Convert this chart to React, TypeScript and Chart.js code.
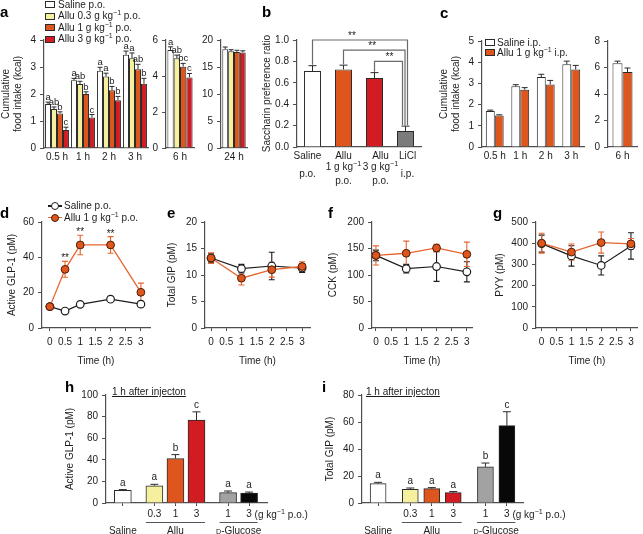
import React, { useEffect, useRef } from 'react';
import { Chart, registerables } from 'chart.js';

Chart.register(...registerables);

const W = 643;
const H = 534;
const FONT = '"Liberation Sans", Arial, Helvetica, sans-serif';
const INK = '#1c1c1c';
const AXIS = '#4f4f4f';
const EDGE = '#2b2b2b';
const WHITE = '#ffffff';
const YELLOW = '#f6ef9d';
const ORANGE = '#de561d';
const RED = '#d21c23';
const DGREY = '#7b7b7b';
const LGREY = '#a2a2a2';
const BLACK = '#080808';
const LINE_OR = '#e6652f';
const BRACKET = '#6a6a6a';

Chart.defaults.font.family = FONT;
Chart.defaults.font.size = 10;
Chart.defaults.color = INK;

// ================= DATA =================
// panel a
const aGroups = ['Saline p.o.', 'Allu 0.3 g kg{−1} p.o.', 'Allu 1 g kg{−1} p.o.', 'Allu 3 g kg{−1} p.o.'];
const aColors = [WHITE, YELLOW, ORANGE, RED];
const aTimes = ['0.5 h', '1 h', '2 h', '3 h'];
const aSaline = [1.63, 2.51, 2.86, 3.45];
const aAllu03 = [1.44, 2.37, 2.65, 3.32];
const aAllu1 = [1.28, 2.0, 2.14, 2.92];
const aAllu3 = [0.67, 1.13, 1.77, 2.38];
const aSalineErr = [0.07, 0.07, 0.13, 0.14];
const aAllu03Err = [0.08, 0.1, 0.12, 0.2];
const aAllu1Err = [0.06, 0.08, 0.14, 0.18];
const aAllu3Err = [0.1, 0.11, 0.14, 0.2];
const aSalineLet = ['a', 'a', 'a', 'a'];
const aAllu03Let = ['ab', 'ab', 'a', 'a'];
const aAllu1Let = ['b', 'b', 'b', 'ab'];
const aAllu3Let = ['c', 'c', 'b', 'b'];
const aTicks = [0, 1, 2, 3, 4];
const a6Label = ['6 h'];
const a6Values = [5.45, 4.98, 4.52, 3.92];
const a6Err = [0.17, 0.18, 0.18, 0.22];
const a6Let = ['a', 'ab', 'bc', 'c'];
const a6Ticks = [0, 2, 4, 6];
const a24Label = ['24 h'];
const a24Values = [18.3, 17.9, 17.8, 17.7];
const a24Err = [0.4, 0.3, 0.3, 0.3];
const a24Ticks = [0, 5, 10, 15, 20];

// panel b
const bCats = ['Saline', 'Allu', 'Allu', 'LiCl'];
const bDoses = ['', '1 g kg{−1}', '3 g kg{−1}', ''];
const bRoutes = ['p.o.', 'p.o.', 'p.o.', 'i.p.'];
const bColors = [WHITE, ORANGE, RED, DGREY];
const bValues = [0.71, 0.725, 0.645, 0.15];
const bErr = [0.05, 0.04, 0.05, 0.045];
const bTicks = [0, 0.2, 0.4, 0.6, 0.8, 1.0];
const bPairs = [[0, 3], [1, 3], [2, 3]];
const bPairLevel = [1.0, 0.905, 0.8];
const bPairMark = ['**', '**', '**'];

// panel c
const cGroups = ['Saline i.p.', 'Allu 1 g kg{−1} i.p.'];
const cSaline = [1.7, 2.86, 3.3, 3.9];
const cSalineErr = [0.04, 0.08, 0.13, 0.15];
const cAllu = [1.49, 2.7, 2.95, 3.65];
const cAlluErr = [0.03, 0.1, 0.19, 0.2];
const cTicks = [0, 1, 2, 3, 4, 5];
const c6Values = [6.33, 5.66];
const c6Err = [0.15, 0.3];
const c6Ticks = [0, 2, 4, 6, 8];

// panels d-g
const timeTicks = [0, 0.5, 1, 1.5, 2, 2.5, 3];
const dLegend = ['Saline p.o.', 'Allu 1 g kg{−1} p.o.'];
const dTimes = [0, 0.5, 1, 2, 3];
const dSaline = [12.1, 9.6, 13.4, 16.3, 13.5];
const dSalineErr = [0.8, 0.7, 0.8, 1.0, 1.6];
const dAllu = [12.1, 33.2, 47, 47, 20.2];
const dAlluErr = [0.9, 4.5, 5.5, 4.7, 5.2];
const dStars = ['', '**', '**', '**', ''];
const dTicks = [0, 20, 40, 60];
const egTimes = [0, 1, 2, 3];
const eSaline = [13.2, 11.2, 11.7, 11.3];
const eSalineErr = [0.8, 0.8, 2.6, 0.8];
const eAllu = [13.2, 9.4, 11.0, 11.6];
const eAlluErr = [1.0, 1.3, 1.4, 0.9];
const eTicks = [0, 5, 10, 15, 20];
const fSaline = [137, 112, 116, 106];
const fSalineErr = [10, 8, 28, 19];
const fAllu = [137, 141, 151, 139];
const fAlluErr = [18, 23, 7, 23];
const fTicks = [0, 50, 100, 150, 200];
const gSaline = [398, 340, 295, 387];
const gSalineErr = [40, 48, 45, 62];
const gAllu = [400, 358, 403, 397];
const gAlluErr = [47, 38, 50, 25];
const gTicks = [0, 100, 200, 300, 400, 500];

// panels h, i
const injX = [0, 1.5, 2.5, 3.5, 5, 6];
const injTicks = ['', '0.3', '1', '3', '1', '3'];
const injColors = [WHITE, YELLOW, ORANGE, RED, LGREY, BLACK];
const groupNames = ['Saline', 'Allu', '[D]-Glucose'];
const groupFrom = [0, 1.5, 5];
const groupTo = [0, 3.5, 6];
const hValues = [11.8, 16, 41.2, 76.8, 9.6, 9.3];
const hErr = [0.6, 1.3, 3.6, 7.6, 1.5, 0.8];
const hLetters = ['a', 'a', 'b', 'c', 'a', 'a'];
const hTicks = [0, 20, 40, 60, 80, 100];
const iValues = [14.4, 10.2, 10.7, 7.7, 26.8, 57.3];
const iErr = [0.9, 0.9, 0.7, 0.8, 2.8, 10.3];
const iLetters = ['a', 'a', 'a', 'a', 'b', 'c'];
const iTicks = [0, 20, 40, 60, 80];

// ================= LAYOUT =================
type Rect = { l: number; t: number; r: number; b: number };
const RA1: Rect = { l: 44, t: 40, r: 148, b: 148 };
const RA2: Rect = { l: 166, t: 40, r: 194, b: 148 };
const RA3: Rect = { l: 221, t: 40, r: 247, b: 148 };
const RB: Rect = { l: 297, t: 40, r: 421, b: 147 };
const RC1: Rect = { l: 482, t: 41, r: 584, b: 147 };
const RC2: Rect = { l: 608, t: 41, r: 637, b: 147 };
const RD: Rect = { l: 42, t: 222, r: 150, b: 328 };
const RE: Rect = { l: 205, t: 222, r: 310, b: 328 };
const RF: Rect = { l: 372, t: 222, r: 472, b: 328 };
const RG: Rect = { l: 536, t: 222, r: 640, b: 328 };
const RH: Rect = { l: 106, t: 395, r: 267, b: 503 };
const RI: Rect = { l: 362, t: 395, r: 523, b: 503 };

// ================= HELPERS =================
function valOf(d: any) {
  return typeof d === 'number' ? d : d.y;
}

function parseRich(str: string) {
  const parts: any[] = [];
  const re = /\{([^}]*)\}|\[([^\]]*)\]|([^{\[]+)/g;
  let m: any;
  while ((m = re.exec(str))) {
    if (m[1] != null) parts.push({ t: m[1], k: 'sup' });
    else if (m[2] != null) parts.push({ t: m[2], k: 'sc' });
    else parts.push({ t: m[3], k: 'n' });
  }
  return parts;
}

function drawRich(ctx: any, str: string, x: number, cy: number, align: string, size: number) {
  const parts = parseRich(str);
  const fontFor = (k: string) => `${k === 'n' ? size : size * 0.72}px ${FONT}`;
  let total = 0;
  parts.forEach((p) => {
    ctx.font = fontFor(p.k);
    p.w = ctx.measureText(p.t).width;
    total += p.w;
  });
  let cx = align === 'center' ? x - total / 2 : align === 'right' ? x - total : x;
  ctx.textAlign = 'left';
  ctx.textBaseline = 'alphabetic';
  const baseY = cy + size * 0.36;
  parts.forEach((p) => {
    ctx.font = fontFor(p.k);
    ctx.fillText(p.t, cx, p.k === 'sup' ? baseY - size * 0.4 : baseY);
    cx += p.w;
  });
}

function drawErrs(chart: any, mode: string) {
  const ctx = chart.ctx;
  chart.data.datasets.forEach((ds: any, di: number) => {
    if (!ds.err || ds.errMode !== mode) return;
    const meta = chart.getDatasetMeta(di);
    const ys = chart.scales[meta.yAxisID];
    ctx.save();
    ctx.strokeStyle = ds.errColor || EDGE;
    ctx.lineWidth = ds.errWidth || 1;
    const cw = ds.capW == null ? 3 : ds.capW;
    meta.data.forEach((el: any, i: number) => {
      const e = ds.err[i];
      if (!e) return;
      const v = valOf(ds.data[i]);
      const x = el.x;
      const yT = ys.getPixelForValue(v + e);
      const yB = mode === 'both' ? ys.getPixelForValue(v - e) : ys.getPixelForValue(v);
      ctx.beginPath();
      ctx.moveTo(x, yB);
      ctx.lineTo(x, yT);
      ctx.moveTo(x - cw, yT);
      ctx.lineTo(x + cw, yT);
      if (mode === 'both') {
        ctx.moveTo(x - cw, yB);
        ctx.lineTo(x + cw, yB);
      }
      ctx.stroke();
    });
    ctx.restore();
  });
}

function drawLetters(chart: any) {
  const ctx = chart.ctx;
  chart.data.datasets.forEach((ds: any, di: number) => {
    if (!ds.letters) return;
    const meta = chart.getDatasetMeta(di);
    const ys = chart.scales[meta.yAxisID];
    ctx.save();
    ctx.fillStyle = INK;
    ctx.font = `${ds.letterSize || 10}px ${FONT}`;
    ctx.textAlign = 'center';
    ctx.textBaseline = 'alphabetic';
    meta.data.forEach((el: any, i: number) => {
      const t = ds.letters[i];
      if (!t) return;
      const v = valOf(ds.data[i]) + (ds.err ? ds.err[i] || 0 : 0);
      ctx.fillText(t, el.x, ys.getPixelForValue(v) - (ds.letterGap == null ? 2 : ds.letterGap));
    });
    ctx.restore();
  });
}

const marks = {
  id: 'marks',
  beforeDatasetsDraw(chart: any) {
    drawErrs(chart, 'both');
  },
  afterDatasetsDraw(chart: any) {
    drawErrs(chart, 'up');
    drawLetters(chart);
  },
};

function baseConfig(type: string, data: any, rect: Rect, yW: number, xH: number, x: any, y: any, plugins: any[] = []) {
  return {
    type,
    data,
    options: {
      responsive: false,
      maintainAspectRatio: false,
      animation: false,
      events: [],
      layout: { padding: { left: rect.l - yW, top: rect.t, right: W - rect.r, bottom: H - rect.b - xH } },
      plugins: { legend: { display: false }, tooltip: { enabled: false }, title: { display: false } },
      scales: {
        x: { ...x, afterFit: (s: any) => { s.height = xH; s.paddingLeft = 0; s.paddingRight = 0; } },
        y: { ...y, afterFit: (s: any) => { s.width = yW; s.paddingTop = 0; s.paddingBottom = 0; } },
      },
    },
    plugins: [marks, ...plugins],
  };
}

function yAxis(ticks: number[], title?: any, fmt?: (v: number) => string) {
  return {
    type: 'linear',
    min: ticks[0],
    max: ticks[ticks.length - 1],
    afterBuildTicks: (s: any) => { s.ticks = ticks.map((v) => ({ value: v })); },
    grid: { display: true, drawOnChartArea: false, drawTicks: true, tickLength: 4, color: AXIS, lineWidth: 1 },
    border: { display: true, color: AXIS, width: 1.2 },
    ticks: { padding: 4, color: INK, font: { size: 10 }, callback: (v: any) => (fmt ? fmt(Number(v)) : String(v)) },
    title: title
      ? { display: true, text: title, color: INK, font: { size: 10, lineHeight: 1.2 }, padding: 0 }
      : { display: false },
  };
}

function catAxis(showLabels: boolean) {
  return {
    type: 'category',
    offset: true,
    grid: { display: false, drawTicks: false, offset: true },
    border: { display: true, color: AXIS, width: 1.2 },
    ticks: { display: showLabels, padding: 3, color: INK, font: { size: 10 }, maxRotation: 0, minRotation: 0, autoSkip: false },
  };
}

function timeAxis(min: number, max: number) {
  return {
    type: 'linear',
    min,
    max,
    offset: false,
    afterBuildTicks: (s: any) => { s.ticks = timeTicks.map((v) => ({ value: v })); },
    grid: { display: true, drawOnChartArea: false, drawTicks: true, tickLength: 3, color: AXIS, lineWidth: 1, offset: false },
    border: { display: true, color: AXIS, width: 1.2 },
    ticks: { padding: 5, color: INK, font: { size: 10 }, maxRotation: 0, minRotation: 0, autoSkip: false, callback: (v: any) => String(v) },
    title: { display: true, text: 'Time (h)', color: INK, font: { size: 10, lineHeight: 1.2 }, padding: 0 },
  };
}

function barSet(data: number[], color: any, err: number[], letters: any, extra: any) {
  return { data, backgroundColor: color, borderColor: EDGE, borderWidth: 1, err, errMode: 'up', letters, ...extra };
}

function lineSet(xs: number[], ys: number[], err: number[], kind: string, letters?: string[]) {
  const style =
    kind === 'sal'
      ? { borderColor: INK, borderWidth: 1.2, pointRadius: 3.8, pointBackgroundColor: WHITE, pointBorderColor: INK, pointBorderWidth: 1.2, errColor: INK, order: 1 }
      : { borderColor: LINE_OR, borderWidth: 1.3, pointRadius: 3.9, pointBackgroundColor: ORANGE, pointBorderColor: '#4a1e08', pointBorderWidth: 1, errColor: LINE_OR, order: 0 };
  return {
    data: xs.map((x, i) => ({ x, y: ys[i] })),
    err,
    errMode: 'both',
    capW: 3,
    errWidth: 1.1,
    tension: 0,
    fill: false,
    letters,
    letterGap: 0,
    ...style,
  };
}

// ================= CHART CONFIGS =================
const aSets = [
  [aSaline, aSalineErr, aSalineLet],
  [aAllu03, aAllu03Err, aAllu03Let],
  [aAllu1, aAllu1Err, aAllu1Let],
  [aAllu3, aAllu3Err, aAllu3Let],
];

const barA = { categoryPercentage: 0.92, barPercentage: 1, capW: 2.5, letterSize: 9.5, letterGap: 2 };

const mkA1 = () =>
  baseConfig(
    'bar',
    { labels: aTimes, datasets: aSets.map((s: any, k) => barSet(s[0], aColors[k], s[1], s[2], barA)) },
    RA1, 44, 20, catAxis(true), yAxis(aTicks, ['Cumulative', 'food intake (kcal)'])
  );

const mkA2 = () =>
  baseConfig(
    'bar',
    { labels: a6Label, datasets: a6Values.map((v, k) => barSet([v], aColors[k], [a6Err[k]], [a6Let[k]], { ...barA, categoryPercentage: 0.9 })) },
    RA2, 20, 20, catAxis(true), yAxis(a6Ticks)
  );

const mkA3 = () =>
  baseConfig(
    'bar',
    { labels: a24Label, datasets: a24Values.map((v, k) => barSet([v], aColors[k], [a24Err[k]], null, { ...barA, categoryPercentage: 0.9 })) },
    RA3, 20, 20, catAxis(true), yAxis(a24Ticks)
  );

const bLabelDx = [-5, 0, 6, 2];
const bEndDx = [2, -0.5, -3];
const bMarkDx = [-8, -2, 1];

const bPlugin = {
  id: 'bextra',
  afterDraw(chart: any) {
    const ctx = chart.ctx;
    const xs = chart.scales.x;
    const ys = chart.scales.y;
    const base = chart.chartArea.bottom;
    ctx.save();
    ctx.fillStyle = INK;
    bCats.forEach((c, i) => {
      const x = xs.getPixelForValue(i) + bLabelDx[i];
      drawRich(ctx, c, x, base + 8.5, 'center', 10);
      if (bDoses[i]) {
        drawRich(ctx, bDoses[i], x, base + 19.5, 'center', 10);
        drawRich(ctx, bRoutes[i], x, base + 33, 'center', 10);
      } else {
        drawRich(ctx, bRoutes[i], x, base + 26.5, 'center', 10);
      }
    });
    ctx.strokeStyle = BRACKET;
    ctx.lineWidth = 1.2;
    bPairs.forEach(([p, q], k) => {
      const x1 = xs.getPixelForValue(p);
      const x2 = xs.getPixelForValue(q) + bEndDx[k];
      const yb = ys.getPixelForValue(bPairLevel[k]);
      const y1 = ys.getPixelForValue(bValues[p] + bErr[p]) - 1;
      const y2 = ys.getPixelForValue(bValues[q] + bErr[q]) - 1;
      ctx.beginPath();
      ctx.moveTo(x1, y1);
      ctx.lineTo(x1, yb);
      ctx.lineTo(x2, yb);
      ctx.lineTo(x2, y2);
      ctx.stroke();
      ctx.font = `10px ${FONT}`;
      ctx.textAlign = 'center';
      ctx.textBaseline = 'alphabetic';
      ctx.fillText(bPairMark[k], (x1 + x2) / 2 + bMarkDx[k], yb - 1.5);
    });
    ctx.restore();
  },
};

const mkB = () =>
  baseConfig(
    'bar',
    { labels: bCats, datasets: [barSet(bValues, bColors, bErr, null, { categoryPercentage: 1, barPercentage: 0.55, capW: 4 })] },
    RB, 36, 40, catAxis(false), yAxis(bTicks, 'Saccharin preference ratio', (v) => v.toFixed(1)), [bPlugin]
  );

const barC = { categoryPercentage: 0.7, barPercentage: 1, capW: 3 };
const mkC1 = () =>
  baseConfig(
    'bar',
    { labels: aTimes, datasets: [barSet(cSaline, WHITE, cSalineErr, null, barC), barSet(cAllu, ORANGE, cAlluErr, null, barC)] },
    RC1, 44, 20, catAxis(true), yAxis(cTicks, ['Cumulative', 'food intake (kcal)'])
  );
const mkC2 = () =>
  baseConfig(
    'bar',
    { labels: a6Label, datasets: c6Values.map((v, k) => barSet([v], k === 0 ? WHITE : ORANGE, [c6Err[k]], null, { ...barC, categoryPercentage: 0.69 })) },
    RC2, 20, 20, catAxis(true), yAxis(c6Ticks)
  );

const mkLine = (rect: Rect, yW: number, min: number, max: number, xs: number[], sal: number[], salE: number[], al: number[], alE: number[], ticks: number[], title: string, stars?: string[]) => () =>
  baseConfig(
    'line',
    { datasets: [lineSet(xs, sal, salE, 'sal'), lineSet(xs, al, alE, 'allu', stars)] },
    rect, yW, 39, timeAxis(min, max), yAxis(ticks, title)
  );

const mkD = mkLine(RD, 36, -0.26, 3.3, dTimes, dSaline, dSalineErr, dAllu, dAlluErr, dTicks, 'Active GLP-1 (pM)', dStars);
const mkE = mkLine(RE, 39, -0.2, 3.26, egTimes, eSaline, eSalineErr, eAllu, eAlluErr, eTicks, 'Total GIP (pM)');
const mkF = mkLine(RF, 45, -0.13, 3.17, egTimes, fSaline, fSalineErr, fAllu, fAlluErr, fTicks, 'CCK (pM)');
const mkG = mkLine(RG, 42, -0.19, 3.23, egTimes, gSaline, gSalineErr, gAllu, gAlluErr, gTicks, 'PYY (pM)');

const injPlugin = {
  id: 'inj',
  afterDraw(chart: any) {
    const ctx = chart.ctx;
    const xs = chart.scales.x;
    const base = chart.chartArea.bottom;
    ctx.save();
    ctx.fillStyle = INK;
    ctx.strokeStyle = '#555';
    ctx.lineWidth = 1;
    const lastX = xs.getPixelForValue(injX[injX.length - 1]);
    drawRich(ctx, '(g kg{−1} p.o.)', lastX + 5.5, base + 11, 'left', 10);
    groupNames.forEach((n, k) => {
      const x1 = xs.getPixelForValue(groupFrom[k]) - 8.5;
      const x2 = xs.getPixelForValue(groupTo[k]) + 8.5;
      if (groupFrom[k] !== groupTo[k]) {
        ctx.beginPath();
        ctx.moveTo(x1, base + 19.5);
        ctx.lineTo(x2, base + 19.5);
        ctx.stroke();
      }
      drawRich(ctx, n, (x1 + x2) / 2, base + 27.5, 'center', 10);
    });
    ctx.restore();
  },
};

const injAxis = (min: number, max: number) => ({
  type: 'linear',
  min,
  max,
  offset: false,
  afterBuildTicks: (s: any) => { s.ticks = injX.map((v) => ({ value: v })); },
  grid: { display: true, drawOnChartArea: false, drawTicks: true, tickLength: 3, color: AXIS, lineWidth: 1, offset: false },
  border: { display: true, color: AXIS, width: 1.2 },
  ticks: { padding: 2, color: INK, font: { size: 10 }, maxRotation: 0, minRotation: 0, autoSkip: false, callback: (_v: any, i: number) => injTicks[i] },
});

const mkInj = (rect: Rect, yW: number, min: number, max: number, values: number[], err: number[], letters: string[], ticks: number[], title: string, thick: number) => () =>
  baseConfig(
    'bar',
    {
      datasets: [
        barSet(values.map((v, i) => ({ x: injX[i], y: v })) as any, injColors, err, letters, { barThickness: thick, capW: 4, letterGap: 4 }),
      ],
    },
    rect, yW, 20, injAxis(min, max), yAxis(ticks, title), [injPlugin]
  );

const mkH = mkInj(RH, 42, -0.8, 6.85, hValues, hErr, hLetters, hTicks, 'Active GLP-1 (pM)', 17);
const mkI = mkInj(RI, 38, -0.75, 6.75, iValues, iErr, iLetters, iTicks, 'Total GIP (pM)', 16);

// ================= COMPONENTS =================
function ChartCanvas({ make, rect }: { make: () => any; rect: Rect }) {
  const ref = useRef<HTMLCanvasElement | null>(null);
  useEffect(() => {
    if (!ref.current) return;
    const config: any = make();
    const chart: any = new Chart(ref.current, config);
    const ca = chart.chartArea;
    const pad = config.options.layout.padding;
    const dl = rect.l - ca.left;
    const dt = rect.t - ca.top;
    const dr = rect.r - ca.right;
    const db = rect.b - ca.bottom;
    if (Math.abs(dl) + Math.abs(dt) + Math.abs(dr) + Math.abs(db) > 0.25) {
      chart.config.options.layout.padding = {
        left: pad.left + dl,
        top: pad.top + dt,
        right: pad.right - dr,
        bottom: pad.bottom - db,
      };
      chart.update();
    }
    return () => chart.destroy();
  }, []);
  return <canvas ref={ref} width={W} height={H} style={{ position: 'absolute', left: 0, top: 0, width: W, height: H }} />;
}

function RichHtml({ s }: { s: string }) {
  const parts = parseRich(s);
  return (
    <>
      {parts.map((p, k) =>
        p.k === 'sup' ? (
          <span key={k} style={{ fontSize: '7px', position: 'relative', top: '-4px', lineHeight: 0 }}>{p.t}</span>
        ) : p.k === 'sc' ? (
          <span key={k} style={{ fontSize: '7.2px' }}>{p.t}</span>
        ) : (
          <span key={k}>{p.t}</span>
        )
      )}
    </>
  );
}

function Txt({ x, cy, s, size = 10, extra = {} }: any) {
  return (
    <div style={{ position: 'absolute', left: x, top: cy - size / 2, fontFamily: FONT, fontSize: size, lineHeight: `${size}px`, color: INK, whiteSpace: 'nowrap', ...extra }}>
      <RichHtml s={s} />
    </div>
  );
}

function PanelLetter({ ch, x, base }: any) {
  return (
    <div style={{ position: 'absolute', left: x, top: base - 12.7, fontFamily: FONT, fontSize: 15, lineHeight: '15px', fontWeight: 700, color: '#000' }}>{ch}</div>
  );
}

function Box({ x, cy, color }: any) {
  return <div style={{ position: 'absolute', left: x, top: cy - 3.5, width: 10, height: 7, boxSizing: 'border-box', border: `1px solid ${EDGE}`, background: color }} />;
}

function LineIcon({ x, cy, line, fill, edge }: any) {
  return (
    <>
      <div style={{ position: 'absolute', left: x, top: cy - 0.6, width: 14, height: 1.2, background: line }} />
      <div style={{ position: 'absolute', left: x + 3, top: cy - 4, width: 8, height: 8, boxSizing: 'border-box', borderRadius: '50%', border: `1.2px solid ${edge}`, background: fill }} />
    </>
  );
}

const panelLetters: [string, number, number][] = [
  ['a', 0, 17], ['b', 262, 17], ['c', 440, 18], ['d', 0, 218], ['e', 167, 218],
  ['f', 328, 218], ['g', 493, 218], ['h', 65, 392], ['i', 322, 392],
];
const aLegendY = [4.5, 16, 27.5, 39];
const cLegendY = [42.5, 52.5];
const dLegendY = [206, 217.5];

export default function App() {
  const charts: [string, () => any, Rect][] = [
    ['a1', mkA1, RA1], ['a2', mkA2, RA2], ['a3', mkA3, RA3], ['b', mkB, RB],
    ['c1', mkC1, RC1], ['c2', mkC2, RC2], ['d', mkD, RD], ['e', mkE, RE],
    ['f', mkF, RF], ['g', mkG, RG], ['h', mkH, RH], ['i', mkI, RI],
  ];
  return (
    <div style={{ position: 'absolute', left: 0, top: 0, width: W, height: H, overflow: 'hidden', background: '#fff' }}>
      {charts.map(([k, mk, r]) => (
        <ChartCanvas key={k} make={mk} rect={r} />
      ))}
      {panelLetters.map(([ch, x, b]) => (
        <PanelLetter key={ch} ch={ch} x={x} base={b} />
      ))}
      {aGroups.map((g, k) => (
        <React.Fragment key={'al' + k}>
          <Box x={45} cy={aLegendY[k]} color={aColors[k]} />
          <Txt x={58} cy={aLegendY[k]} s={g} />
        </React.Fragment>
      ))}
      {cGroups.map((g, k) => (
        <React.Fragment key={'cl' + k}>
          <Box x={485} cy={cLegendY[k]} color={k === 0 ? WHITE : ORANGE} />
          <Txt x={497} cy={cLegendY[k]} s={g} />
        </React.Fragment>
      ))}
      {dLegend.map((g, k) => (
        <React.Fragment key={'dl' + k}>
          {k === 0 ? (
            <LineIcon x={48} cy={dLegendY[k]} line={INK} fill={WHITE} edge={INK} />
          ) : (
            <LineIcon x={48} cy={dLegendY[k]} line={LINE_OR} fill={ORANGE} edge={'#4a1e08'} />
          )}
          <Txt x={64} cy={dLegendY[k]} s={g} />
        </React.Fragment>
      ))}
      <Txt x={112} cy={392} s="1 h after injecton" extra={{ textDecoration: 'underline' }} />
      <Txt x={366} cy={392} s="1 h after injecton" extra={{ textDecoration: 'underline' }} />
    </div>
  );
}
